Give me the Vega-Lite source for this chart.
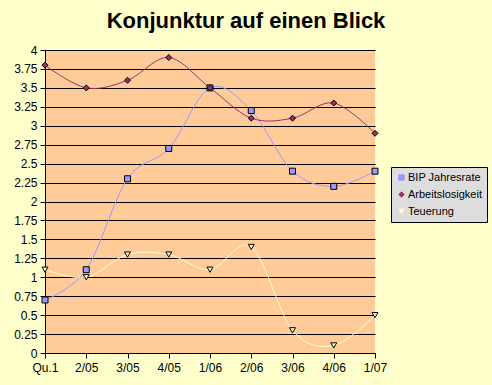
{
  "$schema": "https://vega.github.io/schema/vega-lite/v6.json",
  "autosize": "none",
  "width": 330,
  "height": 303,
  "padding": {"left": 45, "top": 50, "right": 117, "bottom": 32},
  "background": "#FFFFCC",
  "config": {
    "view": {"fill": "#FFCC99", "stroke": null},
    "font": "Liberation Sans",
    "legend": {"symbolStrokeColor": "#000000", "symbolStrokeWidth": 1}
  },
  "title": {
    "text": "Konjunktur auf einen Blick",
    "fontSize": 22,
    "fontWeight": "bold",
    "font": "Liberation Sans",
    "color": "#000000",
    "anchor": "middle",
    "dx": 36,
    "offset": 11
  },
  "data": {
    "values": [
      {"q": "Qu.1", "s": "BIP Jahresrate", "v": 0.7},
      {"q": "2/05", "s": "BIP Jahresrate", "v": 1.1},
      {"q": "3/05", "s": "BIP Jahresrate", "v": 2.3},
      {"q": "4/05", "s": "BIP Jahresrate", "v": 2.7},
      {"q": "1/06", "s": "BIP Jahresrate", "v": 3.5},
      {"q": "2/06", "s": "BIP Jahresrate", "v": 3.2},
      {"q": "3/06", "s": "BIP Jahresrate", "v": 2.4},
      {"q": "4/06", "s": "BIP Jahresrate", "v": 2.2},
      {"q": "1/07", "s": "BIP Jahresrate", "v": 2.4},
      {"q": "Qu.1", "s": "Arbeitslosigkeit", "v": 3.8},
      {"q": "2/05", "s": "Arbeitslosigkeit", "v": 3.5},
      {"q": "3/05", "s": "Arbeitslosigkeit", "v": 3.6},
      {"q": "4/05", "s": "Arbeitslosigkeit", "v": 3.9},
      {"q": "1/06", "s": "Arbeitslosigkeit", "v": 3.5},
      {"q": "2/06", "s": "Arbeitslosigkeit", "v": 3.1},
      {"q": "3/06", "s": "Arbeitslosigkeit", "v": 3.1},
      {"q": "4/06", "s": "Arbeitslosigkeit", "v": 3.3},
      {"q": "1/07", "s": "Arbeitslosigkeit", "v": 2.9},
      {"q": "Qu.1", "s": "Teuerung", "v": 1.1},
      {"q": "2/05", "s": "Teuerung", "v": 1.0},
      {"q": "3/05", "s": "Teuerung", "v": 1.3},
      {"q": "4/05", "s": "Teuerung", "v": 1.3},
      {"q": "1/06", "s": "Teuerung", "v": 1.1},
      {"q": "2/06", "s": "Teuerung", "v": 1.4},
      {"q": "3/06", "s": "Teuerung", "v": 0.3},
      {"q": "4/06", "s": "Teuerung", "v": 0.1},
      {"q": "1/07", "s": "Teuerung", "v": 0.5}
    ]
  },
  "mark": {
    "type": "line", "interpolate": "cardinal", "strokeWidth": 1,
    "point": {"filled": true, "stroke": "#000000", "strokeWidth": 1, "size": 36, "opacity": 1}
  },
  "encoding": {
    "x": {
      "field": "q", "type": "ordinal", "sort": null,
      "scale": {"type": "point", "padding": 0},
      "axis": {
        "title": null, "labelAngle": 0, "labelFontSize": 12, "labelColor": "#000000",
        "domainColor": "#000000", "tickColor": "#000000", "tickSize": 5, "labelPadding": 4,
        "grid": false
      }
    },
    "y": {
      "field": "v", "type": "quantitative",
      "scale": {"domain": [0, 4], "nice": false, "zero": true},
      "axis": {
        "title": null, "format": ".3~g",
        "values": [0, 0.25, 0.5, 0.75, 1, 1.25, 1.5, 1.75, 2, 2.25, 2.5, 2.75, 3, 3.25, 3.5, 3.75, 4],
        "labelFontSize": 12, "labelColor": "#000000",
        "domainColor": "#000000", "tickColor": "#000000", "tickSize": 5, "labelPadding": 3,
        "grid": true, "gridColor": "#000000", "gridOpacity": 1, "gridWidth": 1
      }
    },
    "color": {
      "field": "s", "type": "nominal",
      "scale": {"domain": ["BIP Jahresrate", "Arbeitslosigkeit", "Teuerung"], "range": ["#9999FF", "#993366", "#FFFFCC"]},
      "legend": {
        "title": null, "orient": "none", "legendX": 346, "legendY": 117,
        "fillColor": "#DDDDDD", "strokeColor": "#000000", "padding": 5,
        "labelFontSize": 11, "labelColor": "#000000", "symbolSize": 28,
        "rowPadding": 5, "labelOffset": 1,
        "encode": {"symbols": {"enter": {"stroke": {"value": "#000000"}, "strokeWidth": {"value": 1}}, "update": {"stroke": {"value": "#000000"}, "strokeWidth": {"value": 1}}}}
      }
    },
    "shape": {
      "field": "s", "type": "nominal",
      "scale": {"domain": ["BIP Jahresrate", "Arbeitslosigkeit", "Teuerung"], "range": ["square", "diamond", "triangle-down"]},
      "legend": {
        "title": null, "orient": "none", "legendX": 346, "legendY": 117,
        "fillColor": "#DDDDDD", "strokeColor": "#000000", "padding": 5,
        "labelFontSize": 11, "labelColor": "#000000", "symbolSize": 28,
        "rowPadding": 5, "labelOffset": 1,
        "encode": {"symbols": {"enter": {"stroke": {"value": "#000000"}, "strokeWidth": {"value": 1}}, "update": {"stroke": {"value": "#000000"}, "strokeWidth": {"value": 1}}}}
      }
    }
  }
}
